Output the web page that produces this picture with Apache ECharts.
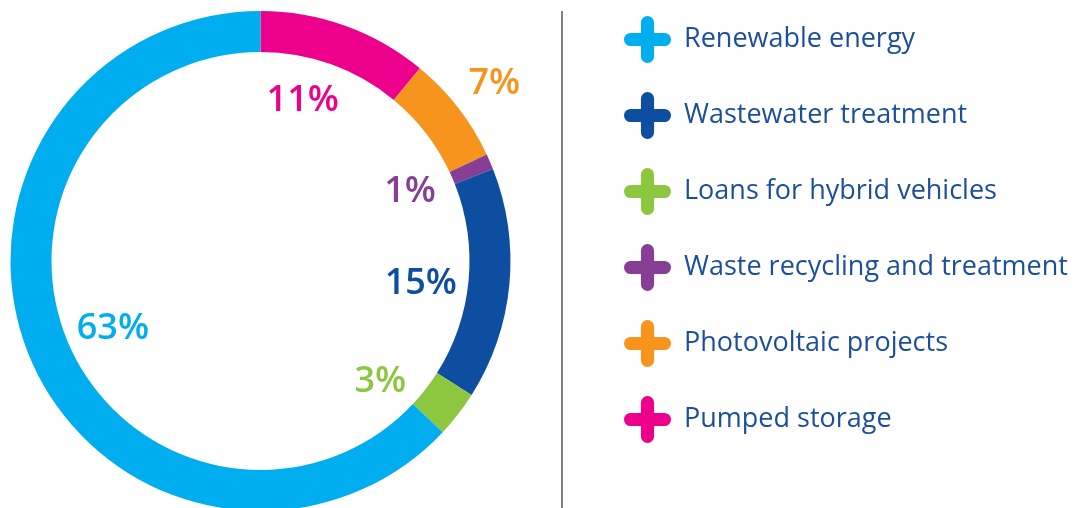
<!DOCTYPE html>
<html>
<head>
<meta charset="utf-8">
<script src="https://cdn.jsdelivr.net/npm/echarts@6/dist/echarts.min.js"></script>
<style>
  html, body { margin: 0; padding: 0; background: #fff; }
  #chart { width: 1078px; height: 508px; }
</style>
</head>
<body>
<div id="chart"></div>
<script>
// categories in clockwise order starting at 12 o'clock
const categories = [
  'Pumped storage',
  'Photovoltaic projects',
  'Waste recycling and treatment',
  'Wastewater treatment',
  'Loans for hybrid vehicles',
  'Renewable energy'
]
const shares = [11, 7, 1, 15, 3, 63]

// legend order (top to bottom)
const legendOrder = [
  'Renewable energy',
  'Wastewater treatment',
  'Loans for hybrid vehicles',
  'Waste recycling and treatment',
  'Photovoltaic projects',
  'Pumped storage'
]

// colours per category
const COLORS = {
  'Pumped storage': '#ec008c',
  'Photovoltaic projects': '#f7941d',
  'Waste recycling and treatment': '#873f96',
  'Wastewater treatment': '#0d4ea0',
  'Loans for hybrid vehicles': '#8dc63f',
  'Renewable energy': '#00aeef'
}

// nudges for the percentage labels (px)
const LABEL_NUDGE = {
  'Pumped storage': [-13, -7],
  'Photovoltaic projects': [105, -77],
  'Waste recycling and treatment': [0, -5],
  'Wastewater treatment': [-2, 7],
  'Loans for hybrid vehicles': [-9, 21],
  'Renewable energy': [2, 3]
}

// rounded plus icon
const PLUS = 'path://M36,14 A14,14 0 0 1 64,14 L64,36 L86,36 A14,14 0 0 1 86,64 L64,64 L64,86 A14,14 0 0 1 36,86 L36,64 L14,64 A14,14 0 0 1 14,36 L36,36 Z'

const center = [260.5, 261]

const ringData = categories.map((name, i) => ({
  name,
  value: shares[i],
  itemStyle: { color: COLORS[name] }
}))

const labelData = categories.map((name, i) => ({
  name,
  value: shares[i],
  itemStyle: { color: 'transparent' },
  label: { color: COLORS[name], offset: LABEL_NUDGE[name] }
}))

const chart = echarts.init(document.getElementById('chart'), null, { renderer: 'canvas' })

chart.setOption({
  backgroundColor: '#fff',
  animation: false,
  legend: {
    orient: 'vertical',
    left: 619,
    top: 11,
    icon: PLUS,
    itemWidth: 47,
    itemHeight: 47,
    itemGap: 29,
    selectedMode: false,
    data: legendOrder.map(name => ({ name, itemStyle: { color: COLORS[name] } })),
    textStyle: {
      color: '#1b4f9c',
      fontFamily: 'Open Sans',
      fontSize: 27,
      padding: [0, 0, 0, 8]
    }
  },
  graphic: [{
    type: 'line',
    shape: { x1: 562, y1: 11, x2: 562, y2: 508 },
    style: { stroke: '#808080', lineWidth: 2 }
  }],
  series: [
    {
      name: 'ring',
      type: 'pie',
      center,
      radius: [209, 250],
      startAngle: 90,
      clockwise: true,
      silent: true,
      label: { show: false },
      labelLine: { show: false },
      data: ringData
    },
    {
      name: 'labels',
      type: 'pie',
      center,
      radius: [0, 320],
      startAngle: 90,
      clockwise: true,
      silent: true,
      avoidLabelOverlap: false,
      label: {
        show: true,
        position: 'inside',
        formatter: '{c}%',
        fontFamily: 'Open Sans',
        fontWeight: 600,
        fontSize: 36
      },
      labelLine: { show: false },
      data: labelData
    }
  ]
})
</script>
</body>
</html>
